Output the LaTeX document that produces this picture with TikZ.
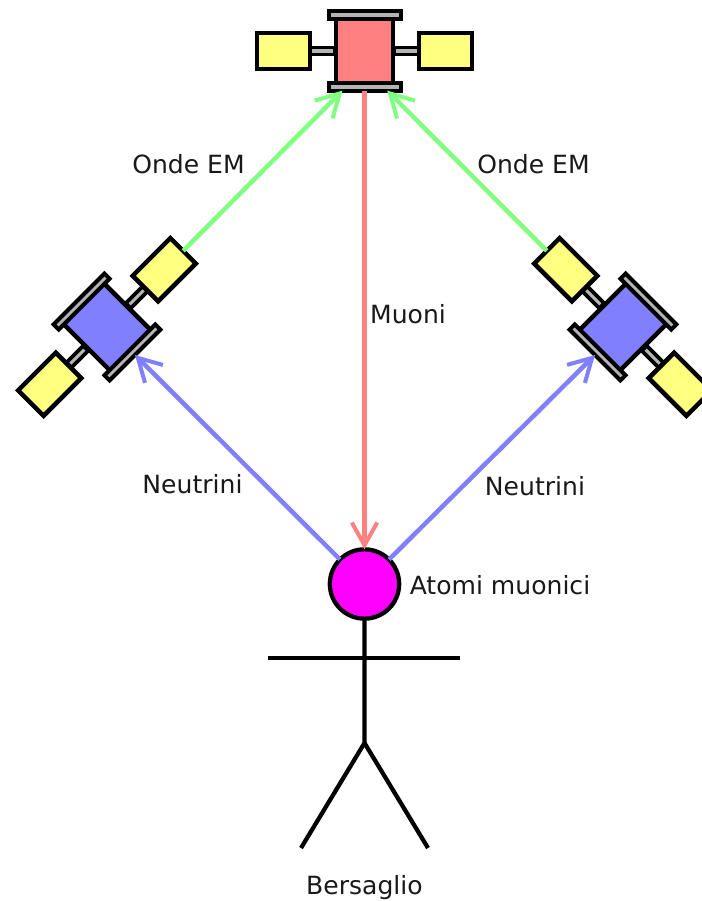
\documentclass[tikz,border=0pt]{standalone}
\usepackage{fontspec}
\setmainfont{DejaVu Sans}
\usetikzlibrary{arrows.meta}

\definecolor{muonred}{HTML}{FF8080}
\definecolor{waveGreen}{HTML}{80FF80}
\definecolor{nuBlue}{HTML}{8080FF}
\definecolor{panelYellow}{HTML}{FFFF80}
\definecolor{plateGray}{HTML}{B4B4B4}
\definecolor{atomPink}{HTML}{FF00FF}

\tikzset{
  part/.style={draw=black, line width=3.4pt, inner sep=0pt, outer sep=0pt, transform shape},
  panel/.style={part, fill=panelYellow, minimum width=40pt, minimum height=27pt},
  plate/.style={part, line width=3pt, fill=plateGray, minimum width=54pt, minimum height=5.4pt},
  strut/.style={part, line width=2.8pt, fill=plateGray, minimum width=18pt, minimum height=5.4pt},
  hull/.style={part, minimum width=43pt, minimum height=50pt},
  satellite/.pic={
    \node[strut] (strutl) at (-42,0) {};
    \node[strut] (strutr) at (42,0) {};
    \node[panel] (panell) at (-81,0) {};
    \node[panel] (panelr) at (81,0) {};
    \node[hull, fill=#1] (body) at (0,0) {};
    \node[plate] (platet) at (0,36) {};
    \node[plate] (plateb) at (0,-36) {};
  },
  beam/.style={line width=3.4pt, -{Straight Barb[length=17pt,width=19pt,line width=3pt]}},
  label/.style={font=\fontsize{18.8}{22}\selectfont, text=black!90},
  stick/.style={line width=3.2pt}
}

\begin{document}
\begin{tikzpicture}[x=0.75pt, y=0.75pt]
  \useasboundingbox (0,0) rectangle (702,901);

  \pic (top) at (364.5,850) {satellite=muonred};
  \pic[rotate=45] (lft) at (107,574) {satellite=nuBlue};
  \pic[rotate=-45] (rgt) at (623,574) {satellite=nuBlue};

  \node[circle, draw=black, line width=3.2pt, fill=atomPink, minimum size=52pt, inner sep=0pt, outer sep=0pt] (atom) at (364.5,317) {};

  \coordinate (shoulder) at (364.5,243);
  \coordinate (handl) at (268,243);
  \coordinate (handr) at (460,243);
  \coordinate (waist) at (364.5,158);
  \coordinate (footl) at (301,53);
  \coordinate (footr) at (428,53);

  \draw[stick] (atom.south) -- (waist) -- (footl);
  \draw[stick] (waist) -- (footr);
  \draw[stick] (handl) -- (handr);

  \draw
  (lftpanelr.east) edge[beam, waveGreen] ([xshift=-16.5pt]topplateb.south)
  (rgtpanell.west) edge[beam, waveGreen] ([xshift=17pt]topplateb.south)
  (topplateb.south) edge[beam, muonred] (atom.north)
  (atom.135) edge[beam, nuBlue] (lftplateb.south)
  (atom.45) edge[beam, nuBlue] (rgtplateb.south);

  \node[label] (emleft) at (188.5,737) {Onde EM};
  \node[label] (emright) at (533.5,737) {Onde EM};
  \node[label] (muoni) at (408,587) {Muoni};
  \node[label] (nuleft) at (192.5,417) {Neutrini};
  \node[label] (nuright) at (535,415) {Neutrini};
  \node[label] (atomi) at (500,316) {Atomi muonici};
  \node[label] (target) at (364.5,13) {Bersaglio};
\end{tikzpicture}
\end{document}
